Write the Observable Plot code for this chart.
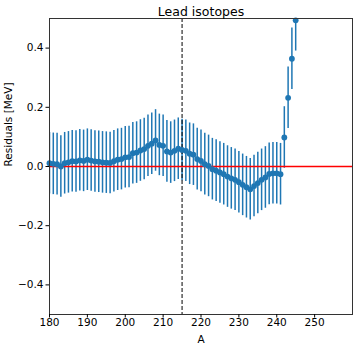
<!DOCTYPE html>
<html>
<head>
<meta charset="utf-8">
<script src="https://cdn.jsdelivr.net/npm/d3@7"></script>
<script src="https://cdn.jsdelivr.net/npm/@observablehq/plot@0.6"></script>
<style>
  html, body { margin: 0; padding: 0; background: #fff; }
  #chart svg { display: block; }
</style>
</head>
<body>
<div id="chart"></div>
<script>
const title = "Lead isotopes";
const xLabel = "A";
const yLabel = "Residuals [MeV]";
const massNumbers = [180,181,182,183,184,185,186,187,188,189,190,191,192,193,194,195,196,197,198,199,
  200,201,202,203,204,205,206,207,208,209,210,211,212,213,214,215,216,217,218,219,
  220,221,222,223,224,225,226,227,228,229,230,231,232,233,234,235,236,237,238,239,
  240,241,242,243,244,245];
const residuals = [0.011,0.009,0.008,0.000,0.011,0.014,0.018,0.017,0.021,0.019,
  0.023,0.020,0.017,0.016,0.014,0.013,0.012,0.018,0.023,0.025,
  0.031,0.032,0.045,0.047,0.054,0.059,0.070,0.077,0.088,0.073,
  0.070,0.051,0.047,0.053,0.060,0.056,0.053,0.043,0.040,0.025,
  0.019,0.008,0.002,-0.009,-0.014,-0.020,-0.026,-0.034,-0.040,-0.045,
  -0.053,-0.062,-0.070,-0.077,-0.066,-0.056,-0.045,-0.037,-0.025,-0.023,
  -0.023,-0.026,0.098,0.232,0.364,0.494];
const errors = [0.104,0.104,0.104,0.104,0.104,0.104,0.104,0.104,0.104,0.104,
  0.104,0.104,0.104,0.104,0.104,0.104,0.104,0.104,0.104,0.104,
  0.104,0.104,0.104,0.104,0.104,0.104,0.104,0.104,0.104,0.104,
  0.104,0.104,0.104,0.104,0.104,0.104,0.104,0.104,0.104,0.104,
  0.104,0.104,0.104,0.104,0.104,0.104,0.104,0.104,0.104,0.104,
  0.104,0.104,0.104,0.104,0.104,0.104,0.104,0.104,0.104,0.104,
  0.104,0.104,0.104,0.104,0.104,0.104];
const xTicks = [180,190,200,210,220,230,240,250];
const yTicks = [-0.4,-0.2,0.0,0.2,0.4];
const xDomain = [180, 260];
const yDomain = [-0.5, 0.5];
const zeroLine = [0];
const markerA = [215];

const data = massNumbers.map((a, i) => ({A: a, r: residuals[i], e: errors[i]}));
const blue = "#1f77b4";
const fmt = v => (v < 0 ? "\u2212" : "") + Math.abs(v).toFixed(1);

const chart = Plot.plot({
  width: 357,
  height: 348,
  marginLeft: 49,
  marginRight: 5,
  marginTop: 18,
  marginBottom: 34,
  style: {fontFamily: "DejaVu Sans, sans-serif", fontSize: "10.5px", color: "#000", background: "#fff"},
  x: {domain: xDomain, ticks: xTicks, tickSize: 3.5, tickFormat: d => String(d), label: null},
  y: {domain: yDomain, ticks: yTicks, tickSize: 3.5, tickFormat: fmt, label: null},
  marks: [
    Plot.ruleX(data, {x: "A", y1: d => d.r - d.e, y2: d => d.r + d.e, stroke: blue, strokeWidth: 1.5, clip: true}),
    Plot.ruleY(zeroLine, {stroke: "#ff0000", strokeWidth: 1.3}),
    Plot.ruleX(markerA, {stroke: "#000", strokeWidth: 1, strokeDasharray: "4,2"}),
    Plot.dot(data, {x: "A", y: "r", r: 2.9, fill: blue, stroke: null}),
    Plot.frame({stroke: "#333", strokeWidth: 1}),
    Plot.axisX({ticks: xTicks, tickSize: 3.5, tickFormat: d => String(d), label: null, fontSize: 10.5, tickPadding: 1}),
    Plot.axisY({ticks: yTicks, tickSize: 3.5, tickFormat: fmt, label: null, fontSize: 10.5, tickPadding: 2.5}),
    Plot.text([title], {frameAnchor: "top", lineAnchor: "bottom", dy: -3, fontSize: 12.5, fill: "#000"}),
    Plot.text([xLabel], {frameAnchor: "bottom", lineAnchor: "bottom", dy: 28, fontSize: 10.5, fill: "#000"}),
    Plot.text([yLabel], {frameAnchor: "left", dx: -41, rotate: -90, fontSize: 10.5, fill: "#000"})
  ]
});
document.getElementById("chart").appendChild(chart);
</script>
</body>
</html>
